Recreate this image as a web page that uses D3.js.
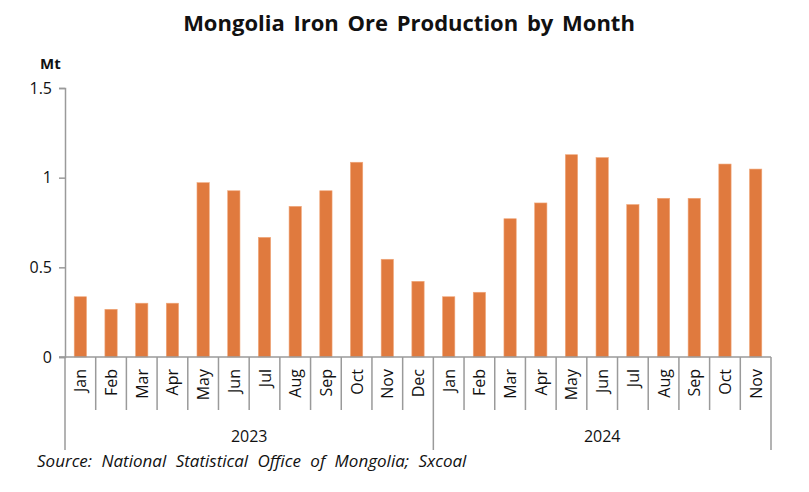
<!DOCTYPE html>
<html>
<head>
<meta charset="utf-8">
<script src="https://cdn.jsdelivr.net/npm/d3@7"></script>
<style>
  body { margin: 0; background: #fff; }
  text { font-family: "Open Sans", "Noto Sans", sans-serif; fill: #111; }
</style>
</head>
<body>
<div id="chart"></div>
<script>
const months = ["Jan", "Feb", "Mar", "Apr", "May", "Jun", "Jul", "Aug", "Sep", "Oct", "Nov", "Dec",
  "Jan", "Feb", "Mar", "Apr", "May", "Jun", "Jul", "Aug", "Sep", "Oct", "Nov"];
const years = ["2023", "2023", "2023", "2023", "2023", "2023", "2023", "2023", "2023", "2023", "2023", "2023",
  "2024", "2024", "2024", "2024", "2024", "2024", "2024", "2024", "2024", "2024", "2024"];
const production = [0.336, 0.266, 0.30, 0.30, 0.972, 0.927, 0.667, 0.84, 0.927, 1.086, 0.545, 0.422,
  0.336, 0.361, 0.771, 0.859, 1.128, 1.112, 0.85, 0.885, 0.885, 1.076, 1.048];
const yTicks = [0, 0.5, 1, 1.5];

const width = 809, height = 492;
const margin = { top: 88, right: 38, bottom: 135, left: 65 };
const innerW = width - margin.left - margin.right;
const innerH = height - margin.top - margin.bottom;

const svg = d3.select("#chart").append("svg")
  .attr("width", width)
  .attr("height", height);

const g = svg.append("g")
  .attr("transform", `translate(${margin.left},${margin.top})`);

const idx = d3.range(months.length);
const x = d3.scaleBand().domain(idx).range([0, innerW]).paddingInner(0.6).paddingOuter(0.3);
const y = d3.scaleLinear().domain([0, 1.5]).range([innerH, 0]);
const step = x.step();
const edge = (i) => x(i) - x.paddingOuter() * step; // left edge of category slot
const axisColor = "#9a9a9a";

// bars
g.selectAll(".bar")
  .data(production)
  .enter()
  .append("rect")
  .attr("class", "bar")
  .attr("x", (d, i) => x(i))
  .attr("width", x.bandwidth())
  .attr("y", (d) => y(d))
  .attr("height", (d) => innerH - y(d))
  .attr("fill", "#E07A3E")
  .attr("stroke", "#F0A77A")
  .attr("stroke-width", 0.6);

// y axis
const yAxis = g.append("g")
  .call(d3.axisLeft(y).tickValues(yTicks).tickSize(6).tickPadding(7).tickFormat(d3.format("")));
yAxis.select(".domain").attr("stroke", axisColor).attr("stroke-width", 1.5);
yAxis.selectAll(".tick line").attr("stroke", axisColor).attr("stroke-width", 1.5);
yAxis.selectAll(".tick text")
  .style("font-size", "16px")
  .attr("fill", "#111");

// x axis baseline
g.append("line")
  .attr("x1", -6).attr("x2", innerW)
  .attr("y1", innerH).attr("y2", innerH)
  .attr("stroke", axisColor).attr("stroke-width", 1.5);

// category separators
const boundaries = d3.range(months.length + 1);
g.selectAll(".sep")
  .data(boundaries)
  .enter()
  .append("line")
  .attr("class", "sep")
  .attr("x1", (i) => i < months.length ? edge(i) : innerW)
  .attr("x2", (i) => i < months.length ? edge(i) : innerW)
  .attr("y1", innerH)
  .attr("y2", (i) => (i === 0 || i === months.length || years[i] !== years[i - 1]) ? innerH + 93 : innerH + 53)
  .attr("stroke", axisColor)
  .attr("stroke-width", 1.5);

// month labels
g.selectAll(".month")
  .data(months)
  .enter()
  .append("text")
  .attr("class", "month")
  .attr("transform", (d, i) => `translate(${x(i) + x.bandwidth() / 2 + 6},${innerH + 12}) rotate(-90)`)
  .attr("text-anchor", "end")
  .style("font-size", "16px")
  .text((d) => d);

// year labels
const yearGroups = Array.from(d3.group(idx, (i) => years[i]), ([yr, list]) => ({ yr, list }));
g.selectAll(".year")
  .data(yearGroups)
  .enter()
  .append("text")
  .attr("class", "year")
  .attr("x", (d) => {
    const a = edge(d.list[0]);
    const last = d.list[d.list.length - 1];
    const b = last + 1 < months.length ? edge(last + 1) : innerW;
    return (a + b) / 2;
  })
  .attr("y", innerH + 85)
  .attr("text-anchor", "middle")
  .style("font-size", "16px")
  .text((d) => d.yr);

// title
svg.append("text")
  .attr("x", 409)
  .attr("y", 31)
  .attr("text-anchor", "middle")
  .style("font-size", "22px")
  .style("font-weight", "bold")
  .style("word-spacing", "3px")
  .attr("fill", "#000")
  .text("Mongolia Iron Ore Production by Month");

// unit
svg.append("text")
  .attr("x", 40)
  .attr("y", 69)
  .style("font-size", "15px")
  .style("font-weight", "bold")
  .text("Mt");

// source
svg.append("text")
  .attr("x", 37)
  .attr("y", 467)
  .style("font-size", "17px")
  .style("font-style", "italic")
  .style("word-spacing", "5px")
  .text("Source: National Statistical Office of Mongolia; Sxcoal");
</script>
</body>
</html>
